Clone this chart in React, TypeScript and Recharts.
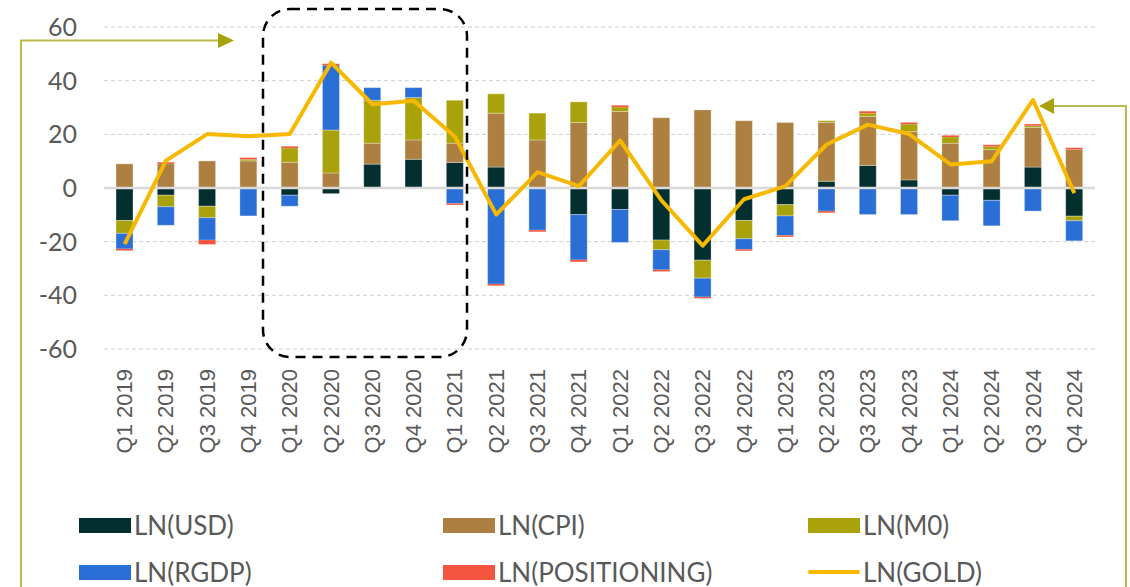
import React from 'react'
import {
  Bar,
  CartesianGrid,
  ComposedChart,
  Legend,
  Line,
  ReferenceLine,
  XAxis,
  YAxis,
} from 'recharts'

const quarters = [
  'Q1 2019', 'Q2 2019', 'Q3 2019', 'Q4 2019',
  'Q1 2020', 'Q2 2020', 'Q3 2020', 'Q4 2020',
  'Q1 2021', 'Q2 2021', 'Q3 2021', 'Q4 2021',
  'Q1 2022', 'Q2 2022', 'Q3 2022', 'Q4 2022',
  'Q1 2023', 'Q2 2023', 'Q3 2023', 'Q4 2023',
  'Q1 2024', 'Q2 2024', 'Q3 2024', 'Q4 2024',
]

const usd = [-12.1, -2.7, -6.8, 0, -2.7, -2.1, 8.9, 10.7, 9.5, 7.8, 0, -9.9, -8.0, -19.4, -26.9, -12.1, -6.2, 2.5, 8.4, 3.0, -2.7, -4.6, 7.8, -10.5]
const cpi = [9.0, 9.0, 10.1, 10.1, 9.6, 5.6, 7.8, 7.2, 7.2, 20.1, 17.9, 24.4, 28.5, 26.2, 29.1, 25.1, 24.4, 22.0, 18.3, 18.0, 16.7, 14.3, 14.8, 14.4]
const m0 = [-4.8, -4.3, -4.3, 0.6, 5.3, 16.0, 16.0, 15.8, 16.0, 7.2, 10.0, 7.7, 1.7, -3.6, -6.7, -6.8, -4.2, 0.6, 1.2, 2.8, 2.3, 1.2, 0.6, -1.7]
const rgdp = [-5.8, -6.9, -8.3, -10.4, -4.1, 24.1, 4.7, 3.7, -5.8, -35.8, -15.7, -16.9, -12.3, -7.5, -7.0, -4.0, -7.3, -8.6, -9.9, -9.9, -9.5, -9.5, -8.6, -7.5]
const positioning = [-0.6, 0.6, -1.6, 0.6, 0.6, 0.6, 0, 0, -0.5, -0.6, -0.6, -0.7, 0.6, -0.6, -0.5, -0.5, -0.5, -0.6, 0.7, 0.6, 0.6, 0.6, 0.6, 0.6]
const gold = [-20.9, 10.2, 20.1, 19.3, 20.1, 46.7, 31.2, 32.5, 19.1, -9.9, 5.9, 0.7, 17.7, -4.6, -21.5, -4.2, 0.7, 16.2, 23.6, 20.1, 8.8, 10.0, 32.8, -1.9]

const yTicks = [-60, -40, -20, 0, 20, 40, 60]

const COLORS = {
  usd: '#032f2f',
  cpi: '#ad7f41',
  m0: '#a9a20a',
  rgdp: '#2a6fd6',
  positioning: '#f4553f',
  gold: '#f6b800',
}

const TEXT = '#595959'
const FONT = 'Lato, "Open Sans", sans-serif'

const data = quarters.map((q, i) => ({
  q,
  usd: usd[i],
  cpi: cpi[i],
  m0: m0[i],
  rgdp: rgdp[i],
  positioning: positioning[i],
  gold: gold[i],
}))

const legendItems = [
  { key: 'usd', label: 'LN(USD)', col: 0, row: 0 },
  { key: 'cpi', label: 'LN(CPI)', col: 1, row: 0 },
  { key: 'm0', label: 'LN(M0)', col: 2, row: 0 },
  { key: 'rgdp', label: 'LN(RGDP)', col: 0, row: 1 },
  { key: 'positioning', label: 'LN(POSITIONING)', col: 1, row: 1 },
  { key: 'gold', label: 'LN(GOLD)', col: 2, row: 1, line: true },
]

const colX = [79, 443, 808]
const rowY = [25, 72]

const renderLegend = () => (
  <div style={{ position: 'relative', width: 1130, height: 87, fontFamily: FONT }}>
    {legendItems.map((it) => (
      <div
        key={it.key}
        style={{
          position: 'absolute',
          left: colX[it.col],
          top: rowY[it.row] - 15,
          height: 30,
          display: 'flex',
          alignItems: 'center',
        }}
      >
        {it.line ? (
          <div style={{ width: 52, height: 4, background: COLORS.gold, borderRadius: 2 }} />
        ) : (
          <div style={{ width: 52, height: 15, background: (COLORS as any)[it.key] }} />
        )}
        <span style={{ marginLeft: 3, fontSize: 26, color: TEXT, whiteSpace: 'nowrap' }}>{it.label}</span>
      </div>
    ))}
  </div>
)

const XTick = (props: any) => {
  const { x, y, payload } = props
  return (
    <text
      transform={`translate(${x},${y}) rotate(-90)`}
      textAnchor="end"
      dominantBaseline="central"
      fill={TEXT}
      fontSize={22}
      fontFamily='"Liberation Sans", Arial, sans-serif'
    >
      {payload.value}
    </text>
  )
}

const Annotations = () => (
  <svg
    width={1130}
    height={587}
    style={{ position: 'absolute', left: 0, top: 0, pointerEvents: 'none' }}
  >
    {/* highlight box round 2020 */}
    <rect
      x={263}
      y={9}
      width={204}
      height={348}
      rx={27}
      ry={27}
      fill="none"
      stroke="#000"
      strokeWidth={2.5}
      strokeDasharray="10 7"
    />
    {/* left arrow */}
    <polyline points="21,587 21,40.5 219,40.5" fill="none" stroke="#bdb84a" strokeWidth={2} />
    <polygon points="218,33 234,40.5 218,48" fill="#a8a10a" />
    {/* right arrow */}
    <polyline points="1126,587 1126,106 1053,106" fill="none" stroke="#bdb84a" strokeWidth={2} />
    <polygon points="1054,98 1039,106 1054,114" fill="#a8a10a" />
  </svg>
)

export default function App() {
  return (
    <div style={{ position: 'absolute', left: 0, top: 0, width: 1130, height: 587, background: '#fff' }}>
      <ComposedChart
        width={1130}
        height={587}
        data={data}
        stackOffset="sign"
        margin={{ top: 27, right: 35, left: 0, bottom: 138 }}
      >
        <CartesianGrid vertical={false} stroke="#cfcfcf" strokeDasharray="4 3" />
        <XAxis
          dataKey="q"
          interval={0}
          height={100}
          axisLine={false}
          tickLine={false}
          tickSize={0}
          tickMargin={20}
          tick={<XTick />}
        />
        <YAxis
          domain={[-60, 60]}
          ticks={yTicks}
          width={104}
          axisLine={false}
          tickLine={false}
          tickSize={0}
          tickMargin={27}
          tick={{ fill: TEXT, fontSize: 25, fontFamily: FONT }}
        />
        <Bar dataKey="usd" stackId="a" fill={COLORS.usd} barSize={17} isAnimationActive={false} stroke="#ffffff" strokeOpacity={0.3} />
        <Bar dataKey="cpi" stackId="a" fill={COLORS.cpi} barSize={17} isAnimationActive={false} stroke="#ffffff" strokeOpacity={0.3} />
        <Bar dataKey="m0" stackId="a" fill={COLORS.m0} barSize={17} isAnimationActive={false} stroke="#ffffff" strokeOpacity={0.3} />
        <Bar dataKey="rgdp" stackId="a" fill={COLORS.rgdp} barSize={17} isAnimationActive={false} stroke="#ffffff" strokeOpacity={0.3} />
        <Bar dataKey="positioning" stackId="a" fill={COLORS.positioning} barSize={17} isAnimationActive={false} />
        <ReferenceLine y={0} stroke="#d9d9d9" strokeWidth={2.5} />
        <Line
          dataKey="gold"
          type="linear"
          stroke={COLORS.gold}
          strokeWidth={4}
          strokeLinejoin="round"
          dot={false}
          activeDot={false}
          isAnimationActive={false}
        />
        <Legend
          layout="horizontal"
          verticalAlign="middle"
          align="center"
          content={renderLegend}
          wrapperStyle={{ left: 0, top: 500, width: 1130, height: 87 }}
        />
      </ComposedChart>
      <Annotations />
    </div>
  )
}
